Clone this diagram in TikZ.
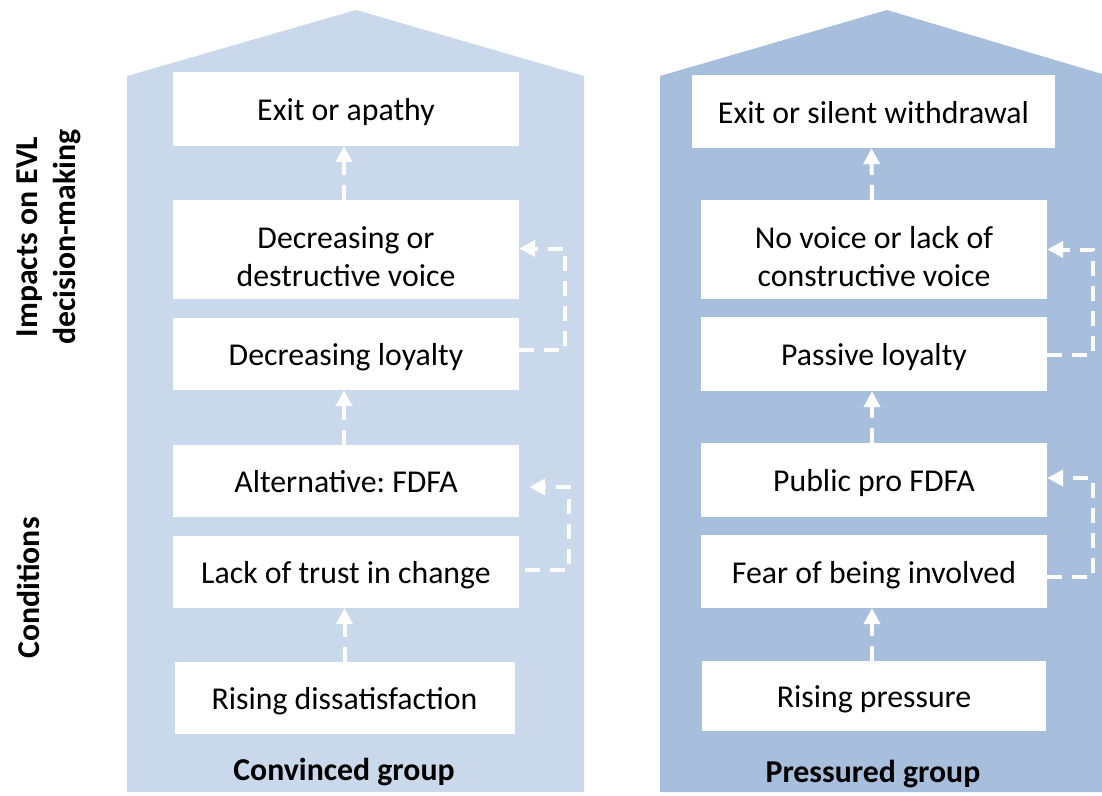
\documentclass[tikz,border=0pt]{standalone}
\usepackage{fontspec}
\setmainfont{Carlito}
\usetikzlibrary{arrows.meta}
\definecolor{houseL}{HTML}{C9D8EA}
\definecolor{houseR}{HTML}{A7BFDD}
\newcommand{\toplift}{\rule{0pt}{37pt}}
\begin{document}
\begin{tikzpicture}[x=1pt,y=-1pt,
  box/.style={fill=white, inner sep=0pt, minimum width=346pt, align=center,
    font=\frenchspacing\fontsize{31.8}{38}\selectfont},
  one/.style={text height=25pt, text depth=2pt},
  flow/.style={white, line width=4pt, dash pattern=on 15pt off 10pt,
    -{Triangle[length=16pt,width=16pt]}},
  lbl/.style={font=\bfseries\fontsize{31.8}{38}\selectfont, align=center}]
\useasboundingbox (0,0) rectangle (1102,795);
% houses
\fill[houseL] (127,792) -- (127,76) -- (356,10) -- (584,76) -- (584,792) -- cycle;
\fill[houseR] (660,792) -- (660,76) -- (887,10) -- (1102,74) -- (1102,792) -- cycle;
% left boxes
\node[box, one, minimum height=74pt] (lex) at (346,109) {Exit or apathy};
\node[box, minimum height=99pt] (ldv) at (346,249.5) {\toplift Decreasing or\\destructive voice};
\node[box, one, minimum height=72pt] (ldl) at (346,354) {Decreasing loyalty};
\node[box, one, minimum height=72pt] (lal) at (346,481) {Alternative: FDFA};
\node[box, one, minimum height=72pt] (llt) at (346,572) {Lack of trust in change};
\node[box, one, minimum height=72pt, minimum width=340pt] (lrd) at (344.5,698) {Rising dissatisfaction};
% right boxes
\node[box, one, minimum height=73pt, minimum width=363pt] (rex) at (873.5,111.5) {Exit or silent withdrawal};
\node[box, minimum height=99pt] (rnv) at (874,249.5) {\toplift No voice or lack of\\constructive voice};
\node[box, one, minimum height=74pt] (rpl) at (874,354) {Passive loyalty};
\node[box, one, minimum height=74pt] (rpf) at (874,480) {Public pro FDFA};
\node[box, one, minimum height=73pt] (rfe) at (874,571.5) {Fear of being involved};
\node[box, one, minimum height=70pt, minimum width=344pt] (rrp) at (874,696) {Rising pressure};
% labels
\node[lbl] (cg) at (344,772) {Convinced group};
\node[lbl] (pg) at (873,774) {Pressured group};
\node[lbl, rotate=90] (imp) at (49,237) {Impacts on EVL\\decision-making};
\node[lbl, rotate=90] (cond) at (28,588) {Conditions};
% left arrows
\draw[flow] (lrd.north) -- (lrd.north |- llt.south);
\draw[flow] ([xshift=-2pt]lal.north) -- ([xshift=-2pt]ldl.south);
\draw[flow] ([xshift=-2pt]ldv.north) -- ([xshift=-2pt]lex.south);
\draw[flow] ([yshift=4pt]ldl.east) -- ++(46,0) |- ([yshift=1pt]ldv.east);
\draw[flow] ([xshift=6pt,yshift=2pt]llt.east) -- ++(44,0) |- ([xshift=10pt,yshift=-6pt]lal.east);
% right arrows
\draw[flow] ([xshift=-2pt]rrp.north) -- ([xshift=-2pt]rfe.south);
\draw[flow] ([xshift=-2pt]rpf.north) -- ([xshift=-2pt]rpl.south);
\draw[flow] ([xshift=-2pt]rnv.north) -- ([xshift=-2pt]rex.south);
\draw[flow] ([yshift=-1pt]rpl.east) -- ++(46,0) |- (rnv.east);
\draw[flow] ([yshift=-5pt]rfe.east) -- ++(46,0) |- ([yshift=2pt]rpf.east);
\end{tikzpicture}
\end{document}
